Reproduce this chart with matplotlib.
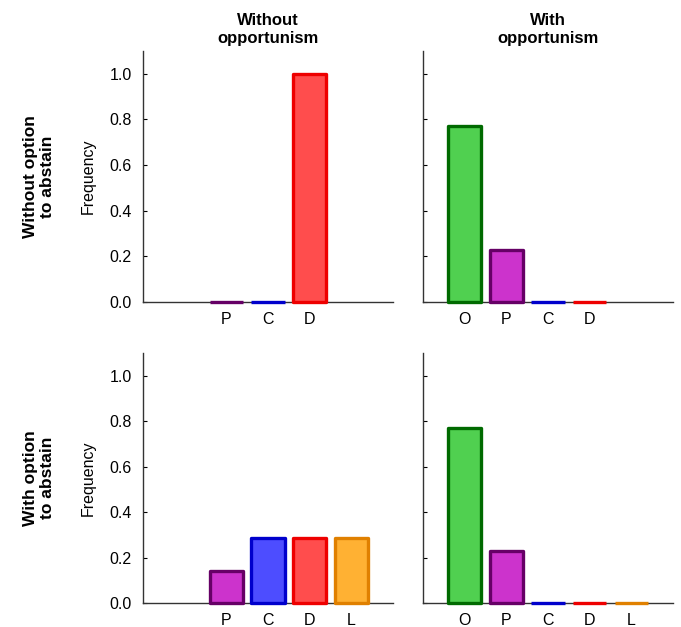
import matplotlib
matplotlib.use("Agg")
import matplotlib.pyplot as plt

plt.rcParams['font.family'] = ['Liberation Sans', 'DejaVu Sans']

strategies = ["O", "P", "C", "D", "L"]
face_colors = {"O": "#50d050", "P": "#cc33cc", "C": "#4d4dff", "D": "#ff4d4d", "L": "#ffb133"}
edge_colors = {"O": "#006a00", "P": "#660066", "C": "#0000cc", "D": "#ee0000", "L": "#e08000"}

tl_labels = ["P", "C", "D"]
tl_values = [0.0, 0.0, 1.0]
tr_labels = ["O", "P", "C", "D"]
tr_values = [0.77, 0.23, 0.0, 0.0]
bl_labels = ["P", "C", "D", "L"]
bl_values = [0.143, 0.286, 0.286, 0.286]
br_labels = ["O", "P", "C", "D", "L"]
br_values = [0.77, 0.23, 0.0, 0.0, 0.0]

col_titles = ["Without\nopportunism", "With\nopportunism"]
row_titles = ["Without option\nto abstain", "With option\nto abstain"]
yticks = [0.0, 0.2, 0.4, 0.6, 0.8, 1.0]

W, H = 681, 627
fig = plt.figure(figsize=(W / 100, H / 100), dpi=100)

def rect(x0, y0, x1, y1):
    return [x0 / W, 1 - y1 / H, (x1 - x0) / W, (y1 - y0) / H]

axes = {
    (0, 0): fig.add_axes(rect(143, 51, 393, 302)),
    (0, 1): fig.add_axes(rect(423, 51, 673, 302)),
    (1, 0): fig.add_axes(rect(143, 353, 393, 603)),
    (1, 1): fig.add_axes(rect(423, 353, 673, 603)),
}
data = {
    (0, 0): (tl_labels, tl_values),
    (0, 1): (tr_labels, tr_values),
    (1, 0): (bl_labels, bl_values),
    (1, 1): (br_labels, br_values),
}

for (r, c), ax in axes.items():
    labels, values = data[(r, c)]
    xs = [strategies.index(l) for l in labels]
    bars = ax.bar(xs, values, width=0.8,
                  color=[face_colors[l] for l in labels],
                  edgecolor=[edge_colors[l] for l in labels],
                  linewidth=2.4, zorder=3)
    for b in bars:
        b.set_clip_on(False)
        b.set_joinstyle('round')
    ax.set_xlim(-1, 5)
    ax.set_ylim(0, 1.1)
    ax.set_xticks(xs)
    ax.set_xticklabels(labels, fontsize=11.5)
    ax.tick_params(axis='x', length=0, pad=7)
    ax.set_yticks(yticks)
    ax.tick_params(axis='y', direction='in', length=3, labelsize=11.5, pad=8)
    if c == 0:
        ax.set_yticklabels([f"{v:.1f}" for v in yticks])
        ax.set_ylabel("Frequency", fontsize=11.5, labelpad=10)
    else:
        ax.set_yticklabels([])
    for s in ["top", "right"]:
        ax.spines[s].set_visible(False)
    for s in ["left", "bottom"]:
        ax.spines[s].set_color("#333333")
        ax.spines[s].set_linewidth(1.0)
        ax.spines[s].set_zorder(2)
    if r == 0:
        ax.set_title(col_titles[c], fontsize=12, fontweight='bold', pad=6)

fig.text(39 / W, 1 - 177 / H, row_titles[0], rotation=90, ha='center', va='center',
         fontsize=12.5, fontweight='bold', linespacing=1.2)
fig.text(39 / W, 1 - 478 / H, row_titles[1], rotation=90, ha='center', va='center',
         fontsize=12.5, fontweight='bold', linespacing=1.2)

fig.savefig("out.png", dpi=100)
